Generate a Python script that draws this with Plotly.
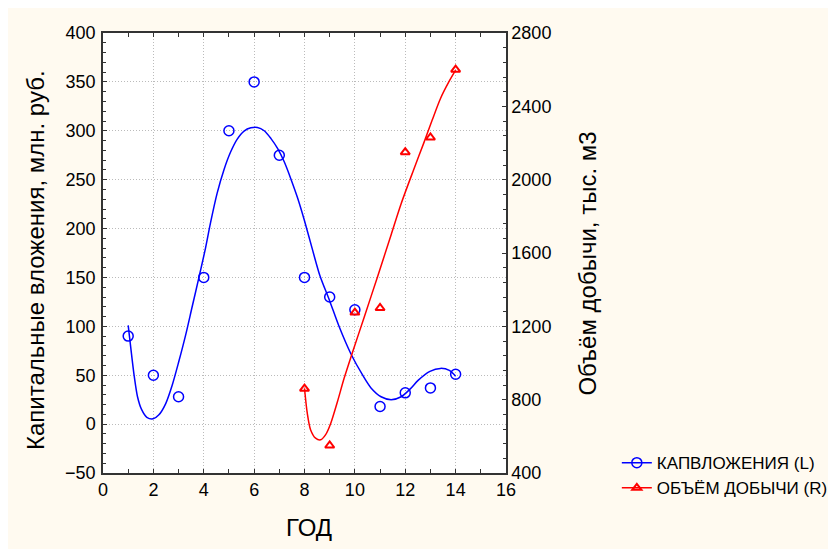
import plotly.graph_objects as go

# ---- data ----
years = [1, 2, 3, 4, 5, 6, 7, 8, 9, 10, 11, 12, 13, 14]
kapvl = [90, 50, 28, 150, 300, 350, 275, 150, 130, 117, 18, 32, 37, 51]

years_vol = [8, 9, 10, 11, 12, 13, 14]
volume = [860, 550, 1275, 1300, 2150, 2230, 2600]

# smoothed fit curves
kap_fit_x = [1.0, 1.13, 1.24, 1.37, 1.53, 1.74, 1.99, 2.22, 2.49, 2.75, 3.01, 3.28, 3.54, 3.8,
             4.07, 4.27, 4.53, 4.8, 5.07, 5.33, 5.6, 5.87, 6.13, 6.4, 6.67, 6.93, 7.2, 7.47,
             7.73, 8.0, 8.3, 8.61, 9.0, 9.37, 9.84, 10.31, 10.64, 11.04, 11.44, 11.84, 12.2,
             12.52, 12.98, 13.4, 13.75, 14.0]
kap_fit_y = [101, 72, 49, 28, 15, 7, 5.4, 9.5, 21, 40, 64, 91, 120, 149,
             180, 206, 236, 260, 278.5, 291.5, 299.7, 303, 303.4, 300, 292, 282, 268, 250,
             231, 208, 180, 152, 126, 100, 72, 50, 37, 28, 25, 28, 36,
             45, 54, 57, 55, 49]

vol_fit_x = [8.0, 8.11, 8.24, 8.44, 8.64, 8.84, 9.04, 9.31, 9.57, 9.91, 10.37, 10.91, 11.44,
             11.84, 12.33, 12.73, 13.07, 13.4, 13.73, 14.0]
vol_fit_y = [862, 726, 636, 590, 581, 609, 670, 790, 915, 1060, 1250, 1475, 1700,
             1870, 2053, 2198, 2325, 2443, 2533, 2597]

x_ticks = [0, 2, 4, 6, 8, 10, 12, 14, 16]
left_ticks = [-50, 0, 50, 100, 150, 200, 250, 300, 350, 400]
right_ticks = [400, 800, 1200, 1600, 2000, 2400, 2800]

BLUE = "#0000FF"
RED = "#FF0000"
FONT = "Liberation Sans, Arial, sans-serif"

fig = go.Figure()

fig.add_trace(go.Scatter(x=kap_fit_x, y=kap_fit_y, mode="lines",
                         line=dict(color=BLUE, width=1.5, shape="spline", smoothing=0.8),
                         showlegend=False, hoverinfo="skip"))
fig.add_trace(go.Scatter(x=years, y=kapvl, mode="markers",
                         marker=dict(symbol="circle-open", size=10, color=BLUE, line=dict(width=1.5)),
                         showlegend=False))
fig.add_trace(go.Scatter(x=vol_fit_x, y=vol_fit_y, mode="lines", yaxis="y2",
                         line=dict(color=RED, width=1.5, shape="spline", smoothing=0.8),
                         showlegend=False, hoverinfo="skip"))
fig.add_trace(go.Scatter(x=years_vol, y=volume, mode="markers", yaxis="y2",
                         marker=dict(symbol="triangle-up-open", size=8, color=RED, line=dict(width=2)),
                         showlegend=False))

# legend entries
fig.add_trace(go.Scatter(x=[None], y=[None], mode="lines+markers", name="КАПВЛОЖЕНИЯ (L)",
                         line=dict(color=BLUE, width=1.5),
                         marker=dict(symbol="circle-open", size=10, color=BLUE, line=dict(width=1.5))))
fig.add_trace(go.Scatter(x=[None], y=[None], mode="lines+markers", name="ОБЪЁМ ДОБЫЧИ (R)", yaxis="y2",
                         line=dict(color=RED, width=1.5),
                         marker=dict(symbol="triangle-up-open", size=8, color=RED, line=dict(width=2))))

axis_common = dict(showline=True, linecolor="#333333", linewidth=1.5, ticks="inside", ticklen=4,
                   tickcolor="#333333", tickwidth=1, zeroline=False,
                   tickfont=dict(family=FONT, size=18, color="#000000"))

title_font = dict(family=FONT, size=24, color="#000000")

fig.update_layout(
    width=850, height=545,
    margin=dict(l=95, r=352, t=25, b=80),
    paper_bgcolor="#FFFAF0",
    plot_bgcolor="#FFFFFF",
    font=dict(family=FONT, color="#000000"),
    xaxis=dict(range=[0, 16], tickvals=x_ticks, mirror="allticks",
               showgrid=True, gridcolor="#BBBBBB", griddash="1px,2px", gridwidth=1,
               minor=dict(dtick=1, ticks="inside", ticklen=3, tickcolor="#333333"),
               **axis_common),
    yaxis=dict(range=[-50, 400], tickvals=left_ticks, ticklabelstandoff=2,
               showgrid=True, gridcolor="#BBBBBB", griddash="1px,2px", gridwidth=1,
               minor=dict(dtick=10, ticks="inside", ticklen=3, tickcolor="#333333"),
               **axis_common),
    yaxis2=dict(range=[400, 2800], tickvals=right_ticks, overlaying="y", side="right",
                showgrid=False,
                minor=dict(dtick=80, ticks="inside", ticklen=3, tickcolor="#333333"),
                **axis_common),
    legend=dict(x=1.275, y=-0.006, xanchor="left", yanchor="middle", bgcolor="rgba(0,0,0,0)",
                font=dict(family=FONT, size=17), tracegroupgap=0, itemwidth=30),
    annotations=[
        dict(text="ГОД", xref="paper", yref="paper", x=0.511, y=-0.124, xanchor="center",
             yanchor="middle", showarrow=False, font=title_font),
        dict(text="Капитальные вложения, млн. руб.", xref="paper", yref="paper", x=-0.1687, y=0.484,
             xanchor="center", yanchor="middle", textangle=-90, showarrow=False, font=title_font),
        dict(text="Объём добычи, тыс. м3", xref="paper", yref="paper", x=1.2035, y=0.476,
             xanchor="center", yanchor="middle", textangle=-90, showarrow=False, font=title_font),
    ],
)

fig.write_html("out.html")
